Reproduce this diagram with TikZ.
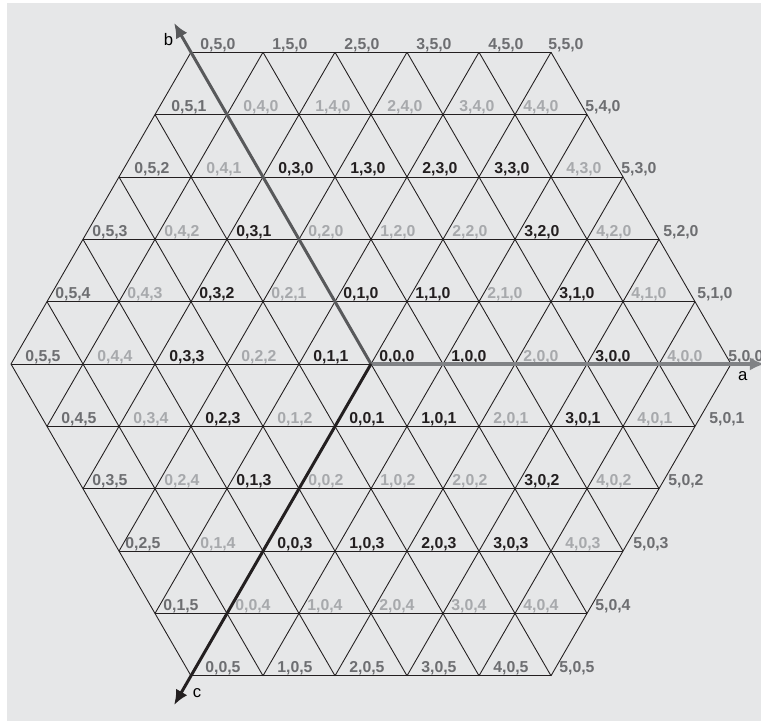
\documentclass[tikz,border=0pt]{standalone}
\usepackage{fontspec}
\setmainfont{Liberation Sans}
\usetikzlibrary{arrows.meta}
\definecolor{panelgray}{HTML}{E6E7E8}
\definecolor{inkblack}{HTML}{231F20}
\definecolor{inkdark}{HTML}{6D6E71}
\definecolor{inklight}{HTML}{A7A9AC}
\definecolor{axisgray}{HTML}{808285}
\definecolor{axisdark}{HTML}{58595B}

\begin{document}
\begin{tikzpicture}[
  x={(1.44cm,0cm)}, y={(0.72cm,1.2471cm)},
  gridline/.style={draw=inkblack, line width=0.5pt},
  axisarrow/.style={-{Latex[length=3mm, width=2.6mm]}, line width=1.7pt},
  vlabel/.style={anchor=base west, inner sep=0pt, font=\bfseries\fontsize{9}{10}\selectfont},
  axislabel/.style={inner sep=0pt, font=\fontsize{9.5}{10}\selectfont, text=black}
]
  % panel
  \fill[panelgray] (-7.28cm,-7.14cm) rectangle (7.80cm,7.22cm);
  \useasboundingbox (-7.42cm,-7.14cm) rectangle (7.80cm,7.28cm);

  % lattice points and their (a,b,c) labels
  \foreach \j in {-5,...,5}{
    \pgfmathtruncatemacro\lo{max(-5,-5-(\j))}
    \pgfmathtruncatemacro\hi{min(5,5-(\j))}
    \foreach \i in {\lo,...,\hi}{
      \coordinate (v\i_\j) at (\i,\j);
      \pgfmathtruncatemacro\vb{max(0,-(\i),\j)}
      \pgfmathtruncatemacro\va{\i+\vb}
      \pgfmathtruncatemacro\vc{\vb-(\j)}
      \pgfmathtruncatemacro\ring{max(\va,\vb,\vc)}
      \ifcase\ring \def\lcol{inkblack}\or\def\lcol{inkblack}\or\def\lcol{inklight}\or
        \def\lcol{inkblack}\or\def\lcol{inklight}\else\def\lcol{inkdark}\fi
      % shift of the label, in px of the original
      \pgfmathsetmacro\dx{{14,8,14,9,14,14,8,9,15,16,9}[\j+5]}
      \ifnum\j=0 \ifnum\i>-1 \def\dx{8}\fi\fi
      \ifnum\va=5 \ifnum\vc=0 \pgfmathsetmacro\dx{{-3,2,4,-2,-2,-3}[\vb]}\fi\fi
      \def\key{\va\vb\vc}
      \ifnum\key=440 \def\dx{8}\fi
      \ifnum\key=25 \def\dx{6}\fi
      \ifnum\key=14 \def\dx{9}\fi
      \ifnum\key=503 \def\dx{10}\fi
      \ifnum\key=505 \def\dx{8}\fi
      \node[vlabel, text=\lcol] (l\va\vb\vc) at ([shift={(\dx*0.02cm,0.06cm)}]v\i_\j) {\va,\vb,\vc};
    }
  }

  % grid lines in the three directions
  \foreach \k in {-5,...,5}{
    \pgfmathtruncatemacro\lo{max(-5,-5-(\k))}
    \pgfmathtruncatemacro\hi{min(5,5-(\k))}
    \pgfmathtruncatemacro\slo{max(-5,\k-5)}
    \pgfmathtruncatemacro\shi{min(5,\k+5)}
    \pgfmathtruncatemacro\tlo{\k-(\slo)}
    \pgfmathtruncatemacro\thi{\k-(\shi)}
    \draw[gridline] (v\lo_\k) -- (v\hi_\k);
    \draw[gridline] (v\k_\lo) -- (v\k_\hi);
    \draw[gridline] (v\slo_\tlo) -- (v\shi_\thi);
  }

  % axes
  \coordinate (aend) at (5.47,0);
  \coordinate (bend) at (-5.47,5.47);
  \coordinate (cend) at (0,-5.47);
  \draw[axisarrow, draw=axisgray, line width=2pt] (v0_0) -- (aend);
  \draw[axisarrow, draw=axisdark] (v0_0) -- (bend);
  \draw[axisarrow, draw=inkblack] (v0_0) -- (cend);
  \node[axislabel] (alab) at ([shift={(-0.44cm,-0.25cm)}]aend) {a};
  \node[axislabel] (blab) at ([shift={(-0.11cm,-0.34cm)}]bend) {b};
  \node[axislabel] (clab) at ([shift={(0.46cm,0.25cm)}]cend) {c};
\end{tikzpicture}
\end{document}
